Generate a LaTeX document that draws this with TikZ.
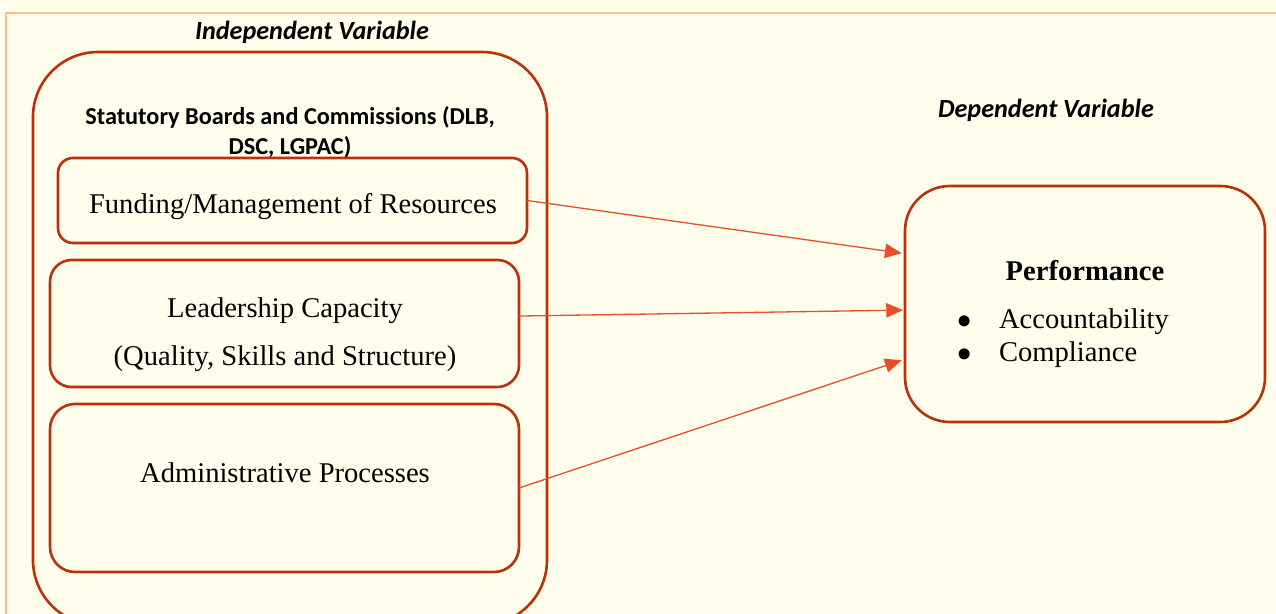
\documentclass[tikz,border=0pt]{standalone}
\usepackage{fontspec}
\setmainfont{Liberation Serif}
\newfontfamily\calibri{Carlito}
\usetikzlibrary{arrows.meta}
\definecolor{boxred}{RGB}{185,50,10}
\definecolor{arrowred}{RGB}{232,78,40}
\definecolor{cream}{RGB}{255,253,235}
\definecolor{framel}{RGB}{250,190,140}

\begin{document}
\begin{tikzpicture}[x=1.476cm,y=1.476cm,
  box/.style={draw=boxred, line width=1.1pt, inner sep=0pt, outer sep=0pt, rectangle},
  txt/.style={font=\fontsize{12}{13.8}\selectfont, align=center},
  heading/.style={font=\calibri\fontsize{11}{13}\selectfont\bfseries\itshape},
  arrow/.style={draw=arrowred, line width=0.55pt, -{Triangle[length=7pt,width=6pt]}}]
\useasboundingbox (0,0) rectangle (12.76,-6.14);
\clip (0,0) rectangle (12.76,-6.14);
\fill[cream] (0,0) rectangle (12.76,-6.14);
\draw[framel, line width=0.5pt] (0.06,-6.3) |- (12.9,-0.13);
% independent side
\node[heading] (indep) at (3.12,-0.32) {Independent Variable};
\node[box, rounded corners=0.96cm, minimum width=7.587cm, minimum height=8.457cm] (outer) at (2.90,-3.385) {};
\node[font=\calibri\fontsize{10.2}{12.6}\selectfont\bfseries, align=center] (board) at (2.90,-1.32) {Statutory Boards and Commissions (DLB,\\DSC, LGPAC)};
\node[box, rounded corners=0.22cm, minimum width=6.922cm, minimum height=1.255cm] (fund) at (2.925,-2.005) {};
\node[txt] (fundtext) at (2.93,-2.065) {Funding/Management of Resources};
\node[box, rounded corners=0.32cm, minimum width=6.922cm, minimum height=1.875cm] (lead) at (2.845,-3.235) {};
\node[txt] (leadtext) at (2.85,-3.35) {Leadership Capacity\\[6.4pt](Quality, Skills and Structure)};
\node[box, rounded corners=0.37cm, minimum width=6.922cm, minimum height=2.48cm] (admin) at (2.845,-4.88) {};
\node[txt] (admintext) at (2.85,-4.73) {Administrative Processes};
% dependent side
\node[heading] (dep) at (10.46,-1.10) {Dependent Variable};
\node[box, rounded corners=0.66cm, minimum width=5.314cm, minimum height=3.483cm] (perf) at (10.85,-3.04) {};
\node[txt, font=\fontsize{12}{13.8}\selectfont\bfseries] (perftitle) at (10.85,-2.71) {Performance};
\node[txt, anchor=west, align=left] (perflist) at (9.49,-3.385) {%
  \begin{tabular}{@{}l@{\hspace{11.5pt}}l@{}}
  $\bullet$ & Accountability\\
  $\bullet$ & Compliance
  \end{tabular}};
\path[arrow] (fund.east) -- ([xshift=-0.05cm,yshift=0.75cm]perf.west);
\path[arrow] ([yshift=0.11cm]lead.east) -- ([xshift=-0.03cm,yshift=-0.09cm]perf.west);
\path[arrow] (admin.east) -- ([xshift=-0.05cm,yshift=-0.83cm]perf.west);
\end{tikzpicture}
\end{document}
